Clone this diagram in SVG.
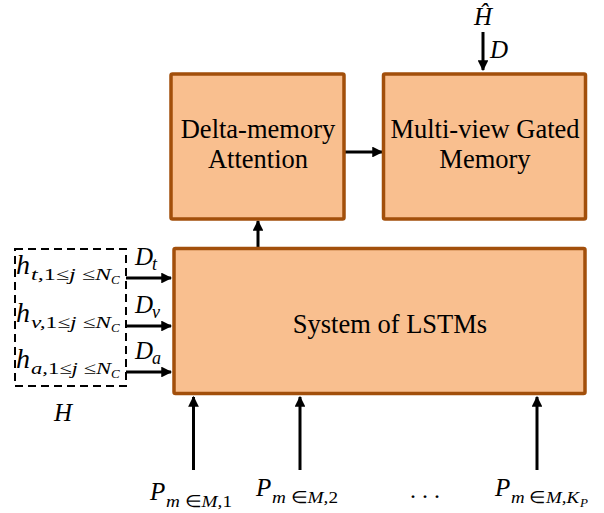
<svg xmlns="http://www.w3.org/2000/svg" width="604" height="513" viewBox="0 0 604 513">
<style>
.box{fill:#F9BF8F;stroke:#A24F0B;stroke-width:3.5}
.lbl{font-family:"Liberation Serif","Times New Roman",serif;font-size:26.5px;fill:#000;text-anchor:middle}
.m{font-family:"Liberation Serif","Times New Roman",serif;font-style:italic;fill:#000}
.up{font-style:normal}
.c{stroke:#000;stroke-width:3;fill:none;marker-end:url(#ah)}
</style>
<defs>
<marker id="ah" viewBox="0 0 10 10" refX="9" refY="5" markerWidth="3.6" markerHeight="3.6" orient="auto" markerUnits="strokeWidth">
<path d="M0,0 L10,5 L0,10 z" fill="#000"/>
</marker>
</defs>
<rect width="604" height="513" fill="#fff"/>
<g id="connectors">
<line class="c" x1="344" y1="152" x2="382" y2="152"/>
<line class="c" x1="483" y1="32" x2="483" y2="70"/>
<line class="c" x1="258" y1="248" x2="258" y2="221"/>
<line class="c" x1="126" y1="278" x2="171" y2="278"/>
<line class="c" x1="126" y1="326" x2="171" y2="326"/>
<line class="c" x1="126" y1="372" x2="171" y2="372"/>
<line class="c" x1="193.5" y1="470" x2="193.5" y2="397"/>
<line class="c" x1="300" y1="470" x2="300" y2="397"/>
<line class="c" x1="537" y1="470" x2="537" y2="397"/>
</g>
<g id="delta">
<rect class="box" x="171" y="74" width="173" height="145" rx="1.5"/>
<text class="lbl" x="258" y="138">Delta-memory</text>
<text class="lbl" x="258" y="168">Attention</text>
</g>
<g id="mvgm">
<rect class="box" x="383.5" y="74" width="202" height="145" rx="1.5"/>
<text class="lbl" x="485" y="138">Multi-view Gated</text>
<text class="lbl" x="485" y="168">Memory</text>
</g>
<g id="lstm">
<rect class="box" x="174" y="248.5" width="411" height="145" rx="1.5"/>
<text class="lbl" x="390" y="333">System of LSTMs</text>
</g>
<g id="H">
<rect x="15" y="249" width="111" height="137" fill="none" stroke="#000" stroke-width="2" stroke-dasharray="8,5"/>
<text class="m" x="16" y="274" font-size="28">h</text>
<text class="m" x="31" y="280" font-size="17" textLength="80" lengthAdjust="spacingAndGlyphs">t,<tspan class="up">1≤</tspan>j <tspan class="up">≤</tspan>N</text>
<text class="m" x="111" y="284" font-size="13">C</text>
<text class="m" x="16" y="322" font-size="28">h</text>
<text class="m" x="31" y="328" font-size="17" textLength="80" lengthAdjust="spacingAndGlyphs">v,<tspan class="up">1≤</tspan>j <tspan class="up">≤</tspan>N</text>
<text class="m" x="111" y="332" font-size="13">C</text>
<text class="m" x="16" y="368" font-size="28">h</text>
<text class="m" x="31" y="374" font-size="17" textLength="80" lengthAdjust="spacingAndGlyphs">a,<tspan class="up">1≤</tspan>j <tspan class="up">≤</tspan>N</text>
<text class="m" x="111" y="378" font-size="13">C</text>
<text class="m" x="135" y="265" font-size="25">D</text>
<text class="m" x="152" y="270" font-size="18">t</text>
<text class="m" x="135" y="313" font-size="25">D</text>
<text class="m" x="152" y="318" font-size="18">v</text>
<text class="m" x="135" y="359" font-size="25">D</text>
<text class="m" x="152" y="364" font-size="18">a</text>
<text class="m" x="54" y="421" font-size="25">H</text>
</g>
<g id="Hhat">
<text class="m" x="474" y="25" font-size="25">Ĥ</text>
<text class="m" x="490" y="58" font-size="25">D</text>
</g>
<g id="P">
<text class="m" x="150" y="500" font-size="25">P</text>
<text class="m" x="166" y="507" font-size="17" textLength="66" lengthAdjust="spacingAndGlyphs">m <tspan class="up">∈</tspan>M,<tspan class="up">1</tspan></text>
<text class="m" x="256" y="496" font-size="25">P</text>
<text class="m" x="272" y="503" font-size="17" textLength="66" lengthAdjust="spacingAndGlyphs">m <tspan class="up">∈</tspan>M,<tspan class="up">2</tspan></text>
<text class="m" x="495" y="496" font-size="25">P</text>
<text class="m" x="511" y="503" font-size="17" textLength="68" lengthAdjust="spacingAndGlyphs">m <tspan class="up">∈</tspan>M,K</text>
<text class="m" x="580" y="507" font-size="13">P</text>
<text x="425" y="498" font-family="Liberation Serif,serif" font-size="24" text-anchor="middle">. . .</text>
</g>
</svg>
